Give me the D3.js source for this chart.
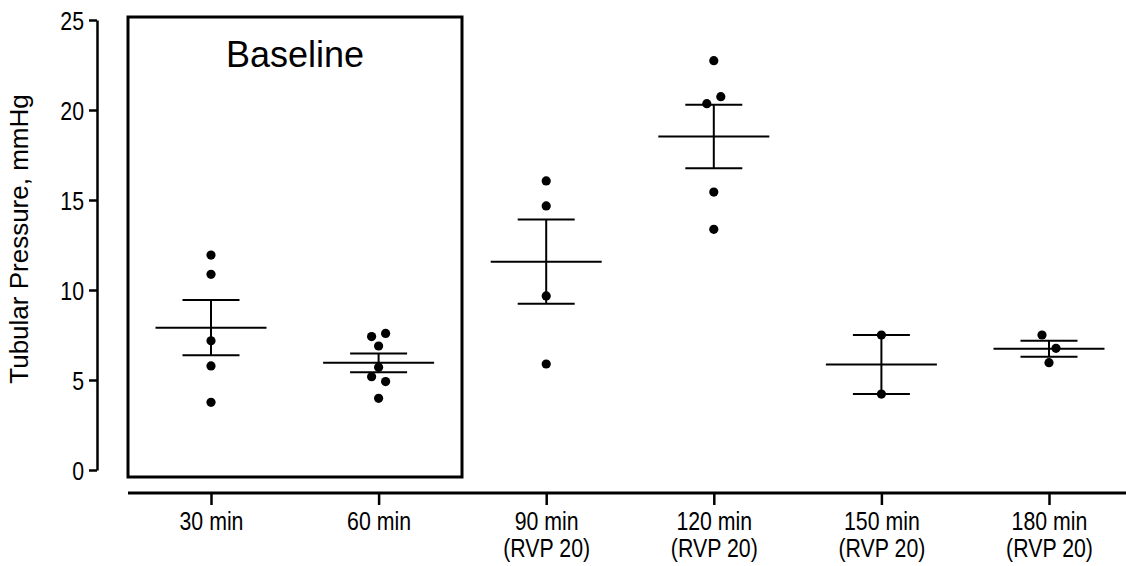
<!DOCTYPE html>
<html>
<head>
<meta charset="utf-8">
<script src="https://cdn.jsdelivr.net/npm/d3@7"></script>
<style>
  html, body { margin: 0; padding: 0; background: #fff; }
  svg { display: block; font-family: Arial, "Liberation Sans", Helvetica, sans-serif; }
</style>
</head>
<body>
<svg id="chart" width="1126" height="566"></svg>
<script>
// ---- data ----
const categories = ["30 min", "60 min", "90 min", "120 min", "150 min", "180 min"];
const subLabels = ["", "", "(RVP 20)", "(RVP 20)", "(RVP 20)", "(RVP 20)"];
const g30  = [11.94, 10.87, 7.18, 5.78, 3.76];
const g60  = [6.89, 7.41, 7.59, 5.71, 5.18, 4.91, 3.98];
const g90  = [16.06, 14.67, 9.67, 5.89];
const g120 = [22.74, 15.44, 13.37, 20.35, 20.74];
const g150 = [7.50, 4.22];
const g180 = [5.96, 7.50, 6.76];
const groups = [g30, g60, g90, g120, g150, g180];
const yTicks = [0, 5, 10, 15, 20, 25];
const yLabel = "Tubular Pressure, mmHg";
const boxLabel = "Baseline";

// ---- layout ----
const svg = d3.select("#chart");
const x = d3.scalePoint().domain(categories).range([211, 1049]);
const y = d3.scaleLinear().domain([0, 25]).range([470, 20]);

// narrow font detection (Arial Narrow metrics)
const probeA = svg.append("text").attr("font-family", "'Liberation Sans Narrow'").attr("font-size", 40).text("30 min (RVP 20)");
const probeB = svg.append("text").attr("font-family", "'Liberation Sans', Arial").attr("font-size", 40).text("30 min (RVP 20)");
const hasNarrow = probeA.node().getComputedTextLength() < 0.9 * probeB.node().getComputedTextLength();
probeA.remove(); probeB.remove();
const narrowFamily = hasNarrow ? "'Liberation Sans Narrow', 'Arial Narrow', sans-serif" : "'Liberation Sans', Arial, sans-serif";
const sx = hasNarrow ? 1 : 0.82;
const tickFont = 26;

// y axis
const yAxis = svg.append("g").attr("transform", "translate(97,0)")
  .call(d3.axisLeft(y).tickValues(yTicks).tickSize(8).tickPadding(3).tickSizeOuter(0));
yAxis.select(".domain").attr("stroke", "#000").attr("stroke-width", 2.5);
yAxis.selectAll(".tick line").attr("stroke", "#000").attr("stroke-width", 2.5);
yAxis.selectAll(".tick text")
  .attr("font-size", tickFont).attr("fill", "#000").attr("font-family", narrowFamily)
  .attr("x", -13 / sx).attr("dy", "0.35em")
  .attr("transform", `scale(${sx},1)`);

// x axis
const xAxisY = 493;
const xAxis = svg.append("g").attr("transform", `translate(0,${xAxisY})`)
  .call(d3.axisBottom(x).tickSize(12).tickSizeOuter(0).tickFormat(""));
xAxis.select(".domain").remove();
xAxis.append("line").attr("x1", 128).attr("x2", 1126).attr("y1", 0).attr("y2", 0)
  .attr("stroke", "#000").attr("stroke-width", 3);
xAxis.selectAll(".tick line").attr("stroke", "#000").attr("stroke-width", 2.5);
xAxis.selectAll(".tick").each(function(d, i) {
  const t = d3.select(this).append("text").attr("fill", "#000").attr("font-size", tickFont)
    .attr("font-family", narrowFamily).attr("text-anchor", "middle")
    .attr("transform", `scale(${sx},1)`);
  t.append("tspan").attr("x", 0).attr("y", 37).text(d);
  if (subLabels[i]) t.append("tspan").attr("x", 0).attr("y", 64).text(subLabels[i]);
});

// y label
svg.append("text")
  .attr("transform", `translate(28,239) rotate(-90)`)
  .attr("text-anchor", "middle").attr("font-size", 26).attr("fill", "#000")
  .text(yLabel);

// baseline box
svg.append("rect")
  .attr("x", 128).attr("y", 17)
  .attr("width", 462 - 128).attr("height", 477 - 17)
  .attr("fill", "none").attr("stroke", "#000").attr("stroke-width", 3);
svg.append("text").attr("x", (128 + 462) / 2).attr("y", 67)
  .attr("text-anchor", "middle").attr("font-size", 36).attr("fill", "#000")
  .text(boxLabel);

// GraphPad-style horizontal spreading of points with close values
function offsets(vals) {
  const idx = vals.map((v, i) => i).sort((a, b) => vals[b] - vals[a]);
  const clusters = [];
  let cur = [idx[0]];
  for (let k = 1; k < idx.length; k++) {
    const dy = Math.abs(y(vals[idx[k]]) - y(vals[idx[k - 1]]));
    if (dy < 15) cur.push(idx[k]); else { clusters.push(cur); cur = [idx[k]]; }
  }
  clusters.push(cur);
  const off = new Array(vals.length).fill(0);
  const s = 7;
  clusters.forEach(c => {
    const ordered = c.slice().sort((a, b) => a - b);
    const slots = [];
    if (ordered.length % 2 === 1) slots.push(0);
    for (let k = 1; slots.length < ordered.length; k++) { slots.push(-k * s); if (slots.length < ordered.length) slots.push(k * s); }
    ordered.forEach((p, j) => off[p] = slots[j]);
  });
  return off;
}

groups.forEach((vals, gi) => {
  const cx = x(categories[gi]);
  const m = d3.mean(vals);
  const sem = d3.deviation(vals) / Math.sqrt(vals.length);
  const g = svg.append("g");
  const off = offsets(vals);
  g.append("line").attr("x1", cx).attr("x2", cx).attr("y1", y(m + sem)).attr("y2", y(m - sem))
    .attr("stroke", "#000").attr("stroke-width", 2);
  [m + sem, m - sem].forEach(v => g.append("line").attr("x1", cx - 28.5).attr("x2", cx + 28.5)
    .attr("y1", y(v)).attr("y2", y(v)).attr("stroke", "#000").attr("stroke-width", 2));
  g.append("line").attr("x1", cx - 55.5).attr("x2", cx + 55.5).attr("y1", y(m)).attr("y2", y(m))
    .attr("stroke", "#000").attr("stroke-width", 2);
  g.selectAll("circle").data(vals).join("circle")
    .attr("cx", (d, i) => cx + off[i]).attr("cy", d => y(d)).attr("r", 4.6).attr("fill", "#000");
});
</script>
</body>
</html>
